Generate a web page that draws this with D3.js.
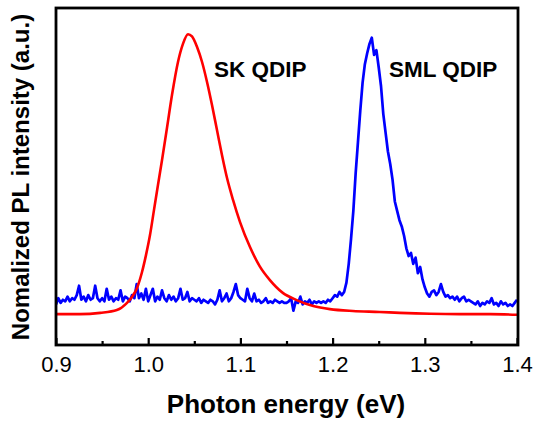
<!DOCTYPE html>
<html>
<head>
<meta charset="utf-8">
<script src="https://cdn.jsdelivr.net/npm/d3@7"></script>
<style>
  html, body { margin: 0; padding: 0; background: #fff; }
  svg { display: block; }
  text { font-family: Arial, "Liberation Sans", Helvetica, sans-serif; fill: #000; }
</style>
</head>
<body>
<svg id="chart" width="535" height="424"></svg>
<script>
// ---------- data ----------
const xDomain = [0.9, 1.4];
const yDomain = [0, 1.08];
const xTickValues = [0.9, 1.0, 1.1, 1.2, 1.3, 1.4];
const xMinorTickValues = [0.95, 1.05, 1.15, 1.25, 1.35];
const xTitle = "Photon energy (eV)";
const yTitle = "Nomalized PL intensity (a.u.)";
const seriesLabels = ["SK QDIP", "SML QDIP"];

// SK QDIP (red): photon energy (eV)
const skEnergy = [0.900, 0.926, 0.948, 0.966, 0.977, 0.9824, 0.9879, 0.9933, 0.9976, 1.0020,
  1.0063, 1.0106, 1.0150, 1.0204, 1.0258, 1.0323, 1.0377, 1.0432, 1.0475, 1.0530,
  1.0584, 1.0638, 1.0692, 1.0746, 1.0800, 1.0855, 1.0920, 1.0996, 1.1104, 1.121,
  1.132, 1.146, 1.161, 1.179, 1.197, 1.222, 1.251, 1.273, 1.306, 1.338, 1.371, 1.400];
// SK QDIP (red): normalized intensity
const skIntensity = [0.099, 0.099, 0.103, 0.112, 0.135, 0.154, 0.183, 0.234, 0.288, 0.353,
  0.433, 0.513, 0.593, 0.696, 0.801, 0.907, 0.965, 0.996, 0.989, 0.955,
  0.907, 0.843, 0.769, 0.689, 0.609, 0.535, 0.465, 0.394, 0.314, 0.252,
  0.208, 0.167, 0.144, 0.125, 0.115, 0.109, 0.106, 0.103, 0.100, 0.099, 0.099, 0.097];

// SML QDIP (blue): sampled every 2.5 meV from 0.900 to 1.400 eV
const smlStart = 0.9;
const smlStep = 0.0025;
const smlIntensity = [
  0.13,0.15,0.135,0.145,0.14,0.155,0.14,0.15,0.145,0.16,0.19,0.145,0.155,0.14,0.16,0.145,0.15,0.19,0.15,0.14,
  0.15,0.14,0.18,0.145,0.155,0.14,0.15,0.145,0.175,0.14,0.155,0.15,0.14,0.16,0.15,0.195,0.15,0.165,0.145,0.18,
  0.14,0.16,0.18,0.14,0.155,0.145,0.175,0.15,0.14,0.16,0.145,0.155,0.14,0.15,0.18,0.145,0.15,0.17,0.14,0.15,
  0.145,0.14,0.15,0.135,0.145,0.14,0.135,0.145,0.14,0.13,0.145,0.175,0.14,0.15,0.165,0.14,0.15,0.17,0.195,0.16,
  0.15,0.145,0.14,0.18,0.15,0.14,0.165,0.14,0.145,0.135,0.14,0.15,0.135,0.14,0.135,0.145,0.14,0.135,0.14,0.135,
  0.135,0.14,0.15,0.11,0.14,0.135,0.155,0.13,0.14,0.135,0.145,0.13,0.14,0.135,0.14,0.135,0.14,0.135,0.145,0.14,
  0.15,0.16,0.155,0.17,0.16,0.17,0.20,0.26,0.34,0.43,0.55,0.65,0.75,0.84,0.90,0.935,0.965,0.985,0.93,0.945,
  0.89,0.83,0.74,0.68,0.62,0.58,0.53,0.46,0.43,0.40,0.38,0.35,0.31,0.285,0.295,0.26,0.28,0.23,0.25,0.21,
  0.185,0.165,0.155,0.17,0.175,0.16,0.17,0.195,0.17,0.155,0.16,0.15,0.155,0.145,0.155,0.14,0.15,0.155,0.14,0.145,
  0.14,0.135,0.13,0.14,0.125,0.135,0.13,0.14,0.135,0.15,0.13,0.135,0.125,0.14,0.13,0.135,0.125,0.13,0.125,0.135,
  0.145
];

// ---------- layout ----------
const svg = d3.select("#chart");
const m = { left: 56, right: 518, top: 8, bottom: 345 };

const x = d3.scaleLinear().domain(xDomain).range([m.left, m.right - 1]);
const y = d3.scaleLinear().domain(yDomain).range([m.bottom, m.top]);

const skData = skEnergy.map((e, i) => [e, skIntensity[i]]);
const smlData = smlIntensity.map((v, i) => [smlStart + smlStep * i, v]);

svg.append("defs").append("clipPath").attr("id", "clip")
  .append("rect").attr("x", m.left).attr("y", m.top)
  .attr("width", m.right - 1 - m.left).attr("height", m.bottom - m.top);

const plot = svg.append("g").attr("clip-path", "url(#clip)");

plot.append("path").datum(smlData)
  .attr("fill", "none").attr("stroke", "#0000ff").attr("stroke-width", 2.7)
  .attr("stroke-linejoin", "round")
  .attr("d", d3.line().x(d => x(d[0])).y(d => y(d[1])));

plot.append("path").datum(skData)
  .attr("fill", "none").attr("stroke", "#ff0000").attr("stroke-width", 2.6)
  .attr("stroke-linejoin", "round")
  .attr("d", d3.line().curve(d3.curveMonotoneX).x(d => x(d[0])).y(d => y(d[1])));

// bottom axis with inward ticks
const xAxis = d3.axisBottom(x).tickValues(xTickValues).tickFormat(d3.format(".1f"))
  .tickSizeInner(-7).tickSizeOuter(0).tickPadding(11);
const gx = svg.append("g").attr("transform", `translate(0,${m.bottom})`).call(xAxis);
gx.select(".domain").remove();
gx.selectAll(".tick line").attr("stroke", "#000").attr("stroke-width", 2.2);
gx.selectAll(".tick text").attr("font-size", 22).attr("fill", "#000")
  .attr("dy", "0.71em");

const xMinor = d3.axisBottom(x).tickValues(xMinorTickValues).tickFormat("")
  .tickSizeInner(-4).tickSizeOuter(0);
const gxm = svg.append("g").attr("transform", `translate(0,${m.bottom})`).call(xMinor);
gxm.select(".domain").remove();
gxm.selectAll(".tick line").attr("stroke", "#000").attr("stroke-width", 2.2);

// frame
svg.append("rect")
  .attr("x", m.left).attr("y", m.top)
  .attr("width", m.right - m.left).attr("height", m.bottom - m.top)
  .attr("fill", "none").attr("stroke", "#000").attr("stroke-width", 2.8);

// series labels
svg.append("text").attr("x", x(1.0714)).attr("y", 77)
  .attr("font-size", 22.5).attr("font-weight", "bold").text(seriesLabels[0]);
svg.append("text").attr("x", x(1.2612)).attr("y", 77)
  .attr("font-size", 22.5).attr("font-weight", "bold").text(seriesLabels[1]);

// axis titles
svg.append("text").attr("x", (m.left + m.right) / 2 - 1).attr("y", 413)
  .attr("text-anchor", "middle").attr("font-size", 26).attr("font-weight", "bold")
  .text(xTitle);
svg.append("text")
  .attr("transform", `translate(29,${177}) rotate(-90)`)
  .attr("text-anchor", "middle").attr("font-size", 24).attr("font-weight", "bold")
  .text(yTitle);
</script>
</body>
</html>
